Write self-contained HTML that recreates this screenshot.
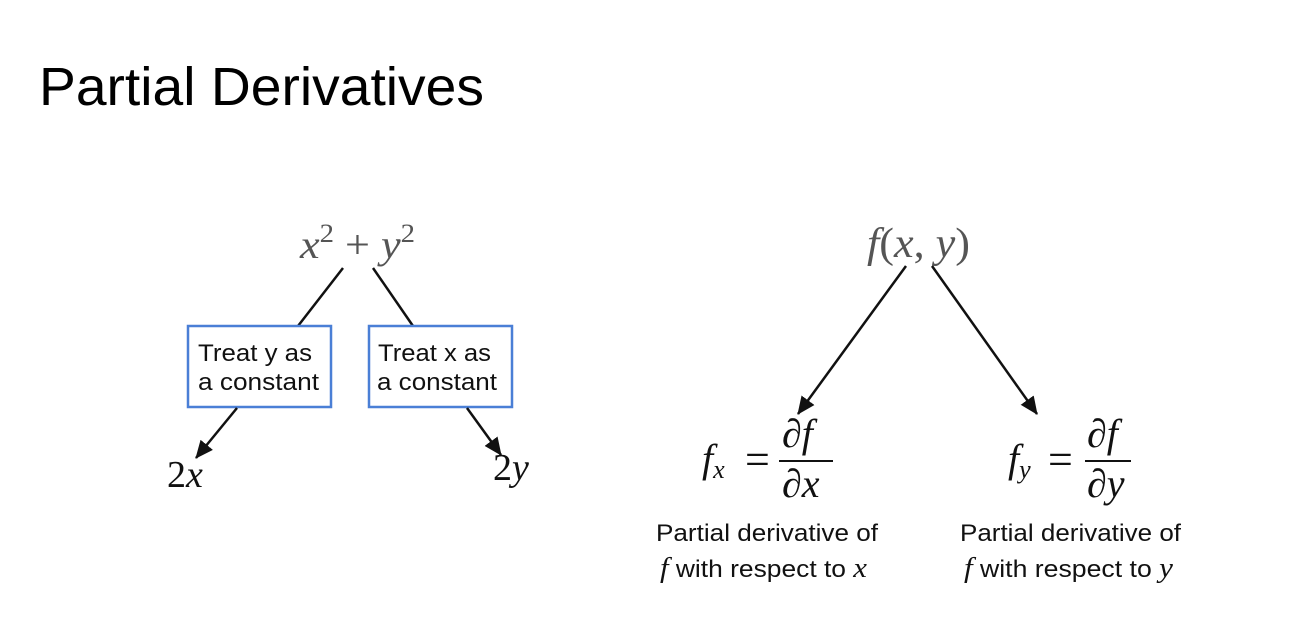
<!DOCTYPE html>
<html><head><meta charset="utf-8"><style>
html,body{margin:0;padding:0;background:#fff;}
svg{display:block;}
.s{font-family:"Liberation Sans",sans-serif;}
.m{font-family:"Liberation Serif",serif;font-style:italic;}
.r{font-family:"Liberation Serif",serif;}
</style></head><body>
<svg width="1306" height="641" viewBox="0 0 1306 641" xmlns="http://www.w3.org/2000/svg">
<defs>
<marker id="ah2" markerWidth="18" markerHeight="18" refX="17" refY="9" orient="auto" markerUnits="userSpaceOnUse" viewBox="0 0 18 18">
<path d="M0,1 L18,9 L0,17 z" fill="#111"/>
</marker>
</defs>
<rect width="1306" height="641" fill="#fff"/>
<text x="39" y="105" class="s" font-size="54" fill="#000" textLength="445" lengthAdjust="spacingAndGlyphs">Partial Derivatives</text>

<!-- left diagram -->
<text x="300" y="258" class="m" font-size="40" fill="#555" textLength="115" lengthAdjust="spacingAndGlyphs">x<tspan class="r" font-style="normal" font-size="26" dy="-16">2</tspan><tspan class="r" font-style="normal" dy="16"> + </tspan>y<tspan class="r" font-style="normal" font-size="26" dy="-16">2</tspan></text>
<line x1="343" y1="268" x2="298" y2="326" stroke="#111" stroke-width="2.5"/>
<line x1="373" y1="268" x2="413" y2="326" stroke="#111" stroke-width="2.5"/>
<rect x="188" y="326" width="143" height="81" fill="#fff" stroke="#4a7fd6" stroke-width="2.5"/>
<rect x="369" y="326" width="143" height="81" fill="#fff" stroke="#4a7fd6" stroke-width="2.5"/>
<text x="198" y="361" class="s" font-size="24" fill="#111" textLength="114" lengthAdjust="spacingAndGlyphs">Treat y as</text>
<text x="198" y="390" class="s" font-size="24" fill="#111" textLength="121" lengthAdjust="spacingAndGlyphs">a constant</text>
<text x="378" y="361" class="s" font-size="24" fill="#111" textLength="113" lengthAdjust="spacingAndGlyphs">Treat x as</text>
<text x="377" y="390" class="s" font-size="24" fill="#111" textLength="120" lengthAdjust="spacingAndGlyphs">a constant</text>
<line x1="237" y1="408" x2="196" y2="458" stroke="#111" stroke-width="2.5" marker-end="url(#ah2)"/>
<line x1="467" y1="408" x2="501" y2="455" stroke="#111" stroke-width="2.5" marker-end="url(#ah2)"/>
<text x="167" y="487" class="r" font-size="38" fill="#111">2<tspan class="m">x</tspan></text>
<text x="493" y="480" class="r" font-size="38" fill="#111">2<tspan class="m">y</tspan></text>

<!-- right diagram -->
<text x="867" y="257" class="r" font-size="42" fill="#555" textLength="103" lengthAdjust="spacingAndGlyphs"><tspan class="m">f</tspan>(<tspan class="m">x</tspan>, <tspan class="m">y</tspan>)</text>
<line x1="906" y1="266" x2="798" y2="414" stroke="#111" stroke-width="2.5" marker-end="url(#ah2)"/>
<line x1="932" y1="266" x2="1037" y2="414" stroke="#111" stroke-width="2.5" marker-end="url(#ah2)"/>

<text x="702" y="472" class="m" font-size="40" fill="#111">f<tspan font-size="26" dy="6">x</tspan></text>
<text x="745" y="474" class="r" font-size="44" fill="#111">=</text>
<text x="782" y="447" class="m" font-size="40" fill="#111">∂f</text>
<line x1="779" y1="461" x2="833" y2="461" stroke="#111" stroke-width="2"/>
<text x="782" y="497" class="m" font-size="40" fill="#111">∂x</text>

<text x="1008" y="472" class="m" font-size="40" fill="#111">f<tspan font-size="26" dy="6">y</tspan></text>
<text x="1048" y="474" class="r" font-size="44" fill="#111">=</text>
<text x="1087" y="447" class="m" font-size="40" fill="#111">∂f</text>
<line x1="1085" y1="461" x2="1131" y2="461" stroke="#111" stroke-width="2"/>
<text x="1087" y="497" class="m" font-size="40" fill="#111">∂y</text>

<text x="656" y="541" class="s" font-size="24" fill="#111" textLength="222" lengthAdjust="spacingAndGlyphs">Partial derivative of</text>
<text x="660" y="577" class="s" font-size="24" fill="#111" textLength="207" lengthAdjust="spacingAndGlyphs"><tspan class="m" font-size="28">f</tspan> with respect to <tspan class="m" font-size="28">x</tspan></text>
<text x="960" y="541" class="s" font-size="24" fill="#111" textLength="221" lengthAdjust="spacingAndGlyphs">Partial derivative of</text>
<text x="964" y="577" class="s" font-size="24" fill="#111" textLength="209" lengthAdjust="spacingAndGlyphs"><tspan class="m" font-size="28">f</tspan> with respect to <tspan class="m" font-size="28">y</tspan></text>
</svg>
</body></html>
